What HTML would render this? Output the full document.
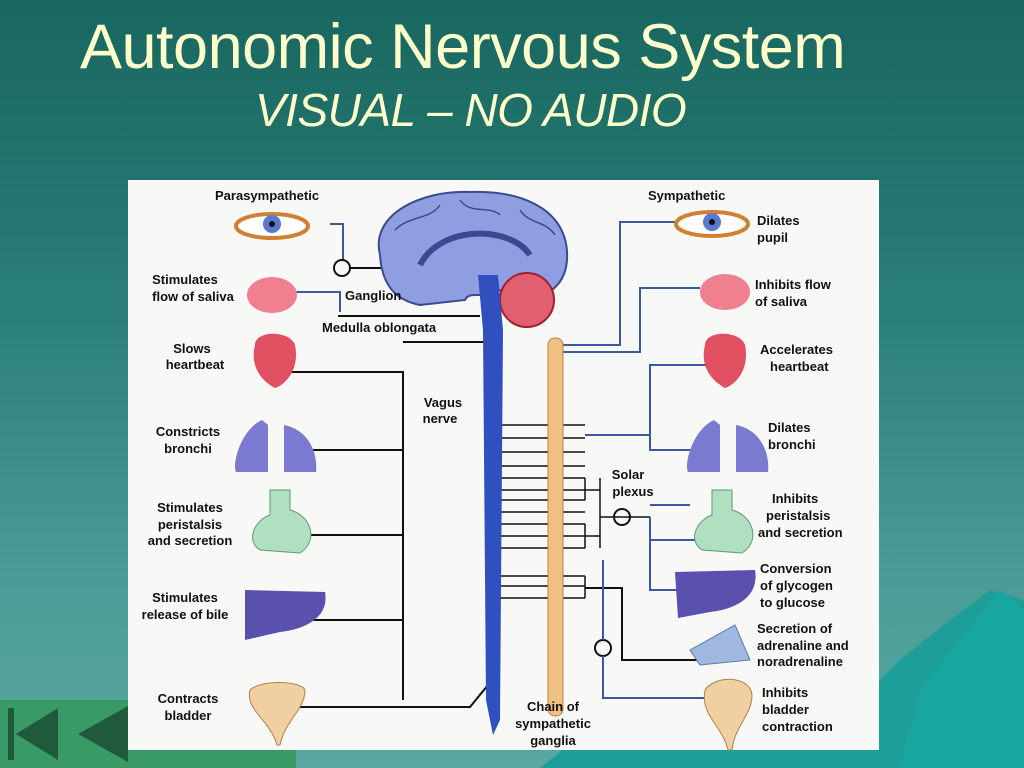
<!DOCTYPE html>
<html><head><meta charset="utf-8"><style>
html,body{margin:0;padding:0;width:1024px;height:768px;overflow:hidden}
body{background:linear-gradient(180deg,#196660 0%,#2a7f78 40%,#4a9c96 75%,#5aa6a0 100%);font-family:"Liberation Sans",sans-serif;position:relative}
.t1{position:absolute;left:80px;top:11px;font-size:63px;color:#ffffcc;white-space:nowrap;letter-spacing:-0.5px}
.t2{position:absolute;left:255px;top:83px;font-size:46px;color:#ffffcc;font-style:italic;white-space:nowrap;letter-spacing:-0.5px}
svg{position:absolute;left:0;top:0}
.l{font-family:"Liberation Sans",sans-serif;font-weight:bold;font-size:13px;fill:#111}
</style></head><body>
<div class="t1">Autonomic Nervous System</div>
<div class="t2">VISUAL – NO AUDIO</div>
<svg width="1024" height="768" viewBox="0 0 1024 768">
<path d="M540 768 L600 720 L660 735 L720 710 L790 725 L860 700 L900 660 L950 620 L990 590 L1024 600 L1024 768 Z" fill="#1e9e98"/>
<path d="M900 768 L920 690 L960 640 L1000 590 L1024 610 L1024 768 Z" fill="#17a6a0"/>
<rect x="0" y="700" width="148" height="68" fill="#3a9a66"/>
<rect x="148" y="745" width="148" height="23" fill="#3a9a66"/>
<rect x="8" y="708" width="6" height="52" fill="#1f5a3c"/>
<path d="M16 734 L58 708 L58 760 Z" fill="#1f5a3c"/>
<path d="M78 734 L128 706 L128 762 Z" fill="#1f5a3c"/>
<rect x="128" y="180" width="751" height="570" fill="#f8f8f6"/>
<g stroke-width="2" fill="none">
<path d="M330 224 H343 V260" stroke="#3a5aa0"/>
<circle cx="342" cy="268" r="8" stroke="#111"/>
<path d="M350 268 H470" stroke="#111"/>
<path d="M290 292 H340 V312" stroke="#3a5aa0"/>
<path d="M338 316 H480" stroke="#111"/>
<path d="M280 372 H403 V700" stroke="#111"/>
<path d="M403 342 H485" stroke="#111"/>
<path d="M290 450 H403 M290 535 H403 M280 620 H403" stroke="#111"/>
<path d="M280 707 H470 L488 685" stroke="#111"/>
<path d="M490 425 H585 M490 438 H585 M490 452 H585 M490 466 H585 M490 478 H585 M490 490 H585 M490 500 H585 M490 512 H585 M490 524 H585 M490 536 H585 M490 548 H585 M490 576 H585 M490 586 H585 M490 598 H585" stroke="#111" stroke-width="1.5"/>
<path d="M585 478 V500 M585 524 V548 M585 576 V598 M600 478 V548" stroke="#111" stroke-width="1.5"/>
<path d="M585 490 H600 M585 536 H600 M600 517 H650" stroke="#111" stroke-width="1.5"/>
<circle cx="622" cy="517" r="8" stroke="#111"/>
<path d="M650 505 H690 M650 517 V590 H680 M650 540 H700" stroke="#3a5aa0"/>
<path d="M585 588 H622 V660 H705" stroke="#111"/>
<circle cx="603" cy="648" r="8" stroke="#111"/>
<path d="M603 640 V560 M603 656 V698 H720" stroke="#3a5aa0"/>
<path d="M560 345 H620 V222 H685" stroke="#3a5aa0"/>
<path d="M560 352 H640 V288 H700" stroke="#3a5aa0"/>
<path d="M585 435 H650 V365 H710 M650 435 V450 H700" stroke="#3a5aa0"/>
</g>
<path d="M380 255 C370 215 420 190 470 192 C530 190 570 215 567 260 C565 290 540 300 520 300 L500 290 C480 300 470 290 465 300 L420 305 C395 300 382 285 380 255 Z" fill="#8f9ee0" stroke="#3a4a90" stroke-width="2"/>
<path d="M420 265 C440 225 510 225 530 255" stroke="#3a4a90" stroke-width="6" fill="none"/>
<path d="M395 230 C410 215 430 220 440 205 M460 200 C470 215 490 205 500 215 M520 210 C530 225 545 220 555 235" stroke="#3a4a90" stroke-width="1.5" fill="none"/>
<circle cx="527" cy="300" r="27" fill="#e06070" stroke="#a02030" stroke-width="2"/>
<path d="M478 275 L498 275 L503 330 L500 720 L493 735 L486 700 L483 330 Z" fill="#3050c0"/>
<rect x="548" y="338" width="15" height="378" rx="7" fill="#f0c080" stroke="#c08040"/>
<g><ellipse cx="272" cy="226" rx="36" ry="12" fill="#fff" stroke="#d08030" stroke-width="4"/><circle cx="272" cy="224" r="9" fill="#5a7ad0"/><circle cx="272" cy="224" r="3" fill="#111"/></g>
<g><ellipse cx="712" cy="224" rx="36" ry="12" fill="#fff" stroke="#d08030" stroke-width="4"/><circle cx="712" cy="222" r="9" fill="#5a7ad0"/><circle cx="712" cy="222" r="3" fill="#111"/></g>
<ellipse cx="272" cy="295" rx="25" ry="18" fill="#f08090"/>
<ellipse cx="725" cy="292" rx="25" ry="18" fill="#f08090"/>
<path d="M255 345 C255 330 290 330 295 345 C300 370 285 385 275 388 C260 380 250 365 255 345Z" fill="#e05060"/>
<path d="M705 345 C705 330 740 330 745 345 C750 370 735 385 725 388 C710 380 700 365 705 345Z" fill="#e05060"/>
<path d="M262 420 C240 430 232 465 236 472 L268 472 L268 425Z M284 425 L284 472 L316 472 C318 455 310 430 284 425Z" fill="#7a7ad0"/>
<path d="M714 420 C692 430 684 465 688 472 L720 472 L720 425Z M736 425 L736 472 L768 472 C770 455 762 430 736 425Z" fill="#7a7ad0"/>
<path d="M270 490 H290 V510 C310 515 320 540 300 553 L260 550 C245 540 255 520 270 515Z" fill="#b0e0c0" stroke="#5a9a70"/>
<path d="M712 490 H732 V510 C752 515 762 540 742 553 L702 550 C687 540 697 520 712 515Z" fill="#b0e0c0" stroke="#5a9a70"/>
<path d="M245 590 L325 592 C330 620 300 630 280 632 L245 640 Z" fill="#5a50b0"/>
<path d="M675 572 L755 570 C760 600 730 610 710 612 L678 618 Z" fill="#5a50b0"/>
<path d="M690 650 L735 625 L750 660 L700 665Z" fill="#a0b8e0" stroke="#5a7ab0"/>
<path d="M250 690 C260 680 300 680 305 690 C305 710 285 720 280 745 L277 745 C270 720 245 710 250 690Z" fill="#f0d0a0" stroke="#b08050"/>
<path d="M705 690 C715 675 750 675 752 695 C752 715 735 725 732 750 L728 750 C722 725 700 715 705 690Z" fill="#f0d0a0" stroke="#b08050"/>
<text class="l" x="215" y="200" font-size="15">Parasympathetic</text>
<text class="l" x="648" y="200" font-size="15">Sympathetic</text>
<g class="l" text-anchor="middle">
<text x="185" y="284">Stimulates</text><text x="193" y="301">flow of saliva</text>
<text x="192" y="353">Slows</text><text x="195" y="369">heartbeat</text>
<text x="188" y="436">Constricts</text><text x="188" y="453">bronchi</text>
<text x="190" y="512">Stimulates</text><text x="190" y="529">peristalsis</text><text x="190" y="545">and secretion</text>
<text x="185" y="602">Stimulates</text><text x="185" y="619">release of bile</text>
<text x="188" y="703">Contracts</text><text x="188" y="720">bladder</text>
<text x="443" y="407">Vagus</text><text x="440" y="423">nerve</text>
<text x="628" y="479">Solar</text><text x="633" y="496">plexus</text>
<text x="553" y="711">Chain of</text><text x="553" y="728">sympathetic</text><text x="553" y="745">ganglia</text>
</g>
<text class="l" x="345" y="300">Ganglion</text>
<text class="l" x="322" y="332">Medulla oblongata</text>
<g class="l">
<text x="757" y="225">Dilates</text><text x="757" y="242">pupil</text>
<text x="755" y="289">Inhibits flow</text><text x="755" y="306">of saliva</text>
<text x="760" y="354">Accelerates</text><text x="770" y="371">heartbeat</text>
<text x="768" y="432">Dilates</text><text x="768" y="449">bronchi</text>
<text x="772" y="503">Inhibits</text><text x="766" y="520">peristalsis</text><text x="758" y="537">and secretion</text>
<text x="760" y="573">Conversion</text><text x="760" y="590">of glycogen</text><text x="760" y="607">to glucose</text>
<text x="757" y="633">Secretion of</text><text x="757" y="650">adrenaline and</text><text x="757" y="666">noradrenaline</text>
<text x="762" y="697">Inhibits</text><text x="762" y="714">bladder</text><text x="762" y="731">contraction</text>
</g>
</svg>
</body></html>
